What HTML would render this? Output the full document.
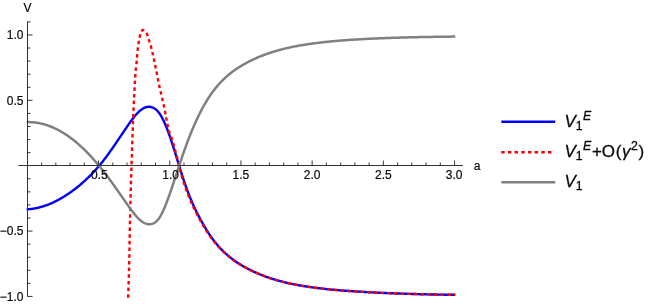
<!DOCTYPE html>
<html><head><meta charset="utf-8"><title>plot</title>
<style>
html,body{margin:0;padding:0;background:#fff;}
body{width:654px;height:304px;overflow:hidden;}
svg{display:block;font-family:"Liberation Sans",sans-serif;will-change:transform;}
</style></head><body>
<svg width="654" height="304" viewBox="0 0 654 304">
<rect width="654" height="304" fill="#fff"/>
<defs><clipPath id="c"><rect x="18" y="21" width="447" height="277"/></clipPath></defs>
<g clip-path="url(#c)" fill="none" stroke-linejoin="round">
<path d="M26.65,209.30 L27.35,209.30 L27.96,209.26 L28.57,209.21 L29.18,209.16 L29.79,209.11 L30.41,209.04 L31.02,208.97 L31.63,208.90 L32.24,208.82 L32.85,208.73 L33.46,208.63 L34.07,208.53 L34.68,208.43 L35.30,208.32 L35.91,208.20 L36.52,208.07 L37.13,207.94 L37.74,207.80 L38.35,207.66 L38.96,207.51 L39.57,207.36 L40.18,207.20 L40.80,207.03 L41.41,206.86 L42.02,206.68 L42.63,206.50 L43.24,206.31 L43.85,206.11 L44.46,205.91 L45.07,205.70 L45.68,205.49 L46.30,205.27 L46.91,205.05 L47.52,204.82 L48.13,204.58 L48.74,204.34 L49.35,204.10 L49.96,203.84 L50.57,203.59 L51.19,203.32 L51.80,203.05 L52.41,202.78 L53.02,202.50 L53.63,202.21 L54.24,201.92 L54.85,201.63 L55.46,201.33 L56.07,201.02 L56.69,200.71 L57.30,200.39 L57.91,200.07 L58.52,199.74 L59.13,199.41 L59.74,199.07 L60.35,198.72 L60.96,198.37 L61.57,198.02 L62.19,197.66 L62.80,197.30 L63.41,196.93 L64.02,196.55 L64.63,196.17 L65.24,195.79 L65.85,195.40 L66.46,195.01 L67.08,194.61 L67.69,194.20 L68.30,193.79 L68.91,193.38 L69.52,192.96 L70.13,192.54 L70.74,192.11 L71.35,191.67 L71.96,191.23 L72.58,190.79 L73.19,190.34 L73.80,189.89 L74.41,189.43 L75.02,188.97 L75.63,188.50 L76.24,188.02 L76.85,187.54 L77.47,187.05 L78.08,186.56 L78.69,186.07 L79.30,185.56 L79.91,185.05 L80.52,184.54 L81.13,184.02 L81.74,183.49 L82.35,182.96 L82.97,182.42 L83.58,181.88 L84.19,181.33 L84.80,180.77 L85.41,180.21 L86.02,179.64 L86.63,179.07 L87.24,178.48 L87.85,177.90 L88.47,177.30 L89.08,176.70 L89.69,176.09 L90.30,175.48 L90.91,174.86 L91.52,174.23 L92.13,173.59 L92.74,172.95 L93.36,172.30 L93.97,171.64 L94.58,170.98 L95.19,170.31 L95.80,169.63 L96.41,168.94 L97.02,168.25 L97.63,167.55 L98.24,166.84 L98.86,166.13 L99.47,165.40 L100.08,164.67 L100.69,163.94 L101.30,163.19 L101.91,162.43 L102.52,161.67 L103.13,160.90 L103.74,160.12 L104.36,159.34 L104.97,158.54 L105.58,157.74 L106.19,156.93 L106.80,156.11 L107.41,155.29 L108.02,154.45 L108.63,153.61 L109.25,152.76 L109.86,151.91 L110.47,151.05 L111.08,150.18 L111.69,149.31 L112.30,148.44 L112.91,147.56 L113.52,146.67 L114.13,145.78 L114.75,144.89 L115.36,144.00 L115.97,143.10 L116.58,142.20 L117.19,141.29 L117.80,140.39 L118.41,139.48 L119.02,138.57 L119.63,137.67 L120.25,136.76 L120.86,135.85 L121.47,134.94 L122.08,134.03 L122.69,133.12 L123.30,132.21 L123.91,131.31 L124.52,130.40 L125.14,129.50 L125.75,128.60 L126.36,127.71 L126.97,126.81 L127.58,125.92 L128.19,125.04 L128.80,124.16 L129.41,123.29 L130.02,122.42 L130.64,121.57 L131.25,120.73 L131.86,119.90 L132.47,119.08 L133.08,118.28 L133.69,117.50 L134.30,116.73 L134.91,115.99 L135.53,115.26 L136.14,114.56 L136.75,113.88 L137.36,113.22 L137.97,112.59 L138.58,111.98 L139.19,111.41 L139.80,110.86 L140.41,110.34 L141.03,109.86 L141.64,109.41 L142.25,108.99 L142.86,108.61 L143.47,108.27 L144.08,107.96 L144.69,107.68 L145.30,107.44 L145.91,107.24 L146.53,107.07 L147.14,106.94 L147.75,106.85 L148.36,106.80 L148.97,106.78 L149.58,106.80 L150.19,106.86 L150.80,106.96 L151.42,107.10 L152.03,107.28 L152.64,107.50 L153.25,107.76 L153.86,108.07 L154.47,108.43 L155.08,108.84 L155.69,109.30 L156.30,109.82 L156.92,110.39 L157.53,111.02 L158.14,111.71 L158.75,112.46 L159.36,113.28 L159.97,114.17 L160.58,115.12 L161.19,116.14 L161.80,117.22 L162.42,118.36 L163.03,119.56 L163.64,120.82 L164.25,122.14 L164.86,123.51 L165.47,124.93 L166.08,126.41 L166.69,127.93 L167.31,129.50 L167.92,131.11 L168.53,132.77 L169.14,134.47 L169.75,136.21 L170.36,137.98 L170.97,139.79 L171.58,141.64 L172.19,143.51 L172.81,145.40 L173.42,147.32 L174.03,149.26 L174.64,151.21 L175.25,153.18 L175.86,155.16 L176.47,157.14 L177.08,159.13 L177.70,161.12 L178.31,163.11 L178.92,165.09 L179.53,167.07 L180.14,169.04 L180.75,170.99 L181.36,172.92 L181.97,174.83 L182.58,176.73 L183.20,178.59 L183.81,180.43 L184.42,182.23 L185.03,184.00 L185.64,185.74 L186.25,187.45 L186.86,189.13 L187.47,190.78 L188.08,192.39 L188.70,193.98 L189.31,195.54 L189.92,197.07 L190.53,198.58 L191.14,200.06 L191.75,201.50 L192.36,202.92 L192.97,204.30 L193.59,205.66 L194.20,206.98 L194.81,208.28 L195.42,209.56 L196.03,210.82 L196.64,212.05 L197.25,213.27 L197.86,214.46 L198.47,215.65 L199.09,216.81 L199.70,217.96 L200.31,219.10 L200.92,220.23 L201.53,221.34 L202.14,222.44 L202.75,223.52 L203.36,224.59 L203.97,225.65 L204.59,226.70 L205.20,227.73 L205.81,228.75 L206.42,229.75 L207.03,230.73 L207.64,231.70 L208.25,232.66 L208.86,233.59 L209.48,234.51 L210.09,235.41 L210.70,236.30 L211.31,237.17 L211.92,238.03 L212.53,238.87 L213.14,239.69 L213.75,240.50 L214.36,241.29 L214.98,242.07 L215.59,242.83 L216.20,243.58 L216.81,244.31 L217.42,245.03 L218.03,245.74 L218.64,246.43 L219.25,247.12 L219.87,247.78 L220.48,248.44 L221.09,249.08 L221.70,249.71 L222.31,250.33 L222.92,250.94 L223.53,251.54 L224.14,252.12 L224.75,252.70 L225.37,253.27 L225.98,253.82 L226.59,254.37 L227.20,254.91 L227.81,255.44 L228.42,255.96 L229.03,256.47 L229.64,256.97 L230.25,257.47 L230.87,257.95 L231.48,258.43 L232.09,258.90 L232.70,259.36 L233.31,259.82 L233.92,260.27 L234.53,260.71 L235.14,261.14 L235.76,261.56 L236.37,261.98 L236.98,262.40 L237.59,262.80 L238.20,263.20 L238.81,263.59 L239.42,263.98 L240.03,264.36 L240.64,264.74 L241.26,265.11 L241.87,265.47 L242.48,265.83 L243.09,266.19 L243.70,266.54 L244.31,266.88 L244.92,267.22 L245.53,267.56 L246.14,267.89 L246.76,268.21 L247.37,268.54 L247.98,268.86 L248.59,269.17 L249.20,269.48 L249.81,269.79 L250.42,270.09 L251.03,270.39 L251.65,270.69 L252.26,270.98 L252.87,271.27 L253.48,271.56 L254.09,271.84 L254.70,272.12 L255.31,272.40 L255.92,272.67 L256.53,272.94 L257.15,273.21 L257.76,273.47 L258.37,273.73 L258.98,273.99 L259.59,274.24 L260.20,274.49 L260.81,274.74 L261.42,274.98 L262.03,275.22 L262.65,275.46 L263.26,275.70 L263.87,275.93 L264.48,276.16 L265.09,276.39 L265.70,276.61 L266.31,276.83 L266.92,277.05 L267.54,277.26 L268.15,277.48 L268.76,277.69 L269.37,277.89 L269.98,278.10 L270.59,278.30 L271.20,278.50 L271.81,278.69 L272.42,278.89 L273.04,279.08 L273.65,279.27 L274.26,279.46 L274.87,279.64 L275.48,279.82 L276.09,280.00 L276.70,280.18 L277.31,280.35 L277.93,280.53 L278.54,280.70 L279.15,280.87 L279.76,281.03 L280.37,281.20 L280.98,281.36 L281.59,281.52 L282.20,281.68 L282.81,281.83 L283.43,281.99 L284.04,282.14 L284.65,282.29 L285.26,282.43 L285.87,282.58 L286.48,282.72 L287.09,282.87 L287.70,283.01 L288.31,283.14 L288.93,283.28 L289.54,283.41 L290.15,283.55 L290.76,283.68 L291.37,283.81 L291.98,283.93 L292.59,284.06 L293.20,284.18 L293.82,284.31 L294.43,284.43 L295.04,284.55 L295.65,284.67 L296.26,284.78 L296.87,284.90 L297.48,285.01 L298.09,285.12 L298.70,285.23 L299.32,285.34 L299.93,285.45 L300.54,285.55 L301.15,285.66 L301.76,285.76 L302.37,285.86 L302.98,285.96 L303.59,286.06 L304.20,286.16 L304.82,286.26 L305.43,286.36 L306.04,286.45 L306.65,286.54 L307.26,286.64 L307.87,286.73 L308.48,286.82 L309.09,286.91 L309.71,286.99 L310.32,287.08 L310.93,287.17 L311.54,287.25 L312.15,287.34 L312.76,287.42 L313.37,287.50 L313.98,287.59 L314.59,287.67 L315.21,287.75 L315.82,287.83 L316.43,287.90 L317.04,287.98 L317.65,288.06 L318.26,288.13 L318.87,288.21 L319.48,288.28 L320.10,288.35 L320.71,288.43 L321.32,288.50 L321.93,288.57 L322.54,288.64 L323.15,288.71 L323.76,288.78 L324.37,288.84 L324.98,288.91 L325.60,288.98 L326.21,289.04 L326.82,289.11 L327.43,289.17 L328.04,289.23 L328.65,289.29 L329.26,289.36 L329.87,289.42 L330.48,289.48 L331.10,289.54 L331.71,289.59 L332.32,289.65 L332.93,289.71 L333.54,289.77 L334.15,289.82 L334.76,289.88 L335.37,289.93 L335.99,289.99 L336.60,290.04 L337.21,290.09 L337.82,290.15 L338.43,290.20 L339.04,290.25 L339.65,290.30 L340.26,290.35 L340.87,290.40 L341.49,290.45 L342.10,290.49 L342.71,290.54 L343.32,290.59 L343.93,290.63 L344.54,290.68 L345.15,290.73 L345.76,290.77 L346.37,290.81 L346.99,290.86 L347.60,290.90 L348.21,290.94 L348.82,290.99 L349.43,291.03 L350.04,291.07 L350.65,291.11 L351.26,291.15 L351.88,291.19 L352.49,291.23 L353.10,291.27 L353.71,291.31 L354.32,291.35 L354.93,291.38 L355.54,291.42 L356.15,291.46 L356.76,291.50 L357.38,291.54 L357.99,291.58 L358.60,291.62 L359.21,291.66 L359.82,291.70 L360.43,291.73 L361.04,291.77 L361.65,291.81 L362.27,291.84 L362.88,291.88 L363.49,291.91 L364.10,291.95 L364.71,291.98 L365.32,292.02 L365.93,292.05 L366.54,292.09 L367.15,292.12 L367.77,292.15 L368.38,292.19 L368.99,292.22 L369.60,292.25 L370.21,292.29 L370.82,292.32 L371.43,292.35 L372.04,292.38 L372.65,292.41 L373.27,292.44 L373.88,292.48 L374.49,292.51 L375.10,292.54 L375.71,292.57 L376.32,292.60 L376.93,292.63 L377.54,292.66 L378.16,292.69 L378.77,292.71 L379.38,292.74 L379.99,292.77 L380.60,292.80 L381.21,292.83 L381.82,292.86 L382.43,292.88 L383.04,292.91 L383.66,292.94 L384.27,292.96 L384.88,292.99 L385.49,293.02 L386.10,293.04 L386.71,293.07 L387.32,293.10 L387.93,293.12 L388.54,293.15 L389.16,293.17 L389.77,293.20 L390.38,293.22 L390.99,293.25 L391.60,293.27 L392.21,293.29 L392.82,293.32 L393.43,293.34 L394.05,293.36 L394.66,293.39 L395.27,293.41 L395.88,293.43 L396.49,293.46 L397.10,293.48 L397.71,293.50 L398.32,293.52 L398.93,293.54 L399.55,293.57 L400.16,293.59 L400.77,293.61 L401.38,293.63 L401.99,293.65 L402.60,293.67 L403.21,293.69 L403.82,293.71 L404.43,293.73 L405.05,293.75 L405.66,293.77 L406.27,293.79 L406.88,293.81 L407.49,293.83 L408.10,293.85 L408.71,293.87 L409.32,293.89 L409.94,293.91 L410.55,293.92 L411.16,293.94 L411.77,293.96 L412.38,293.98 L412.99,294.00 L413.60,294.01 L414.21,294.03 L414.82,294.05 L415.44,294.07 L416.05,294.08 L416.66,294.10 L417.27,294.12 L417.88,294.13 L418.49,294.15 L419.10,294.16 L419.71,294.18 L420.33,294.20 L420.94,294.21 L421.55,294.23 L422.16,294.24 L422.77,294.26 L423.38,294.27 L423.99,294.29 L424.60,294.30 L425.21,294.32 L425.83,294.33 L426.44,294.35 L427.05,294.36 L427.66,294.37 L428.27,294.39 L428.88,294.40 L429.49,294.42 L430.10,294.43 L430.71,294.44 L431.33,294.46 L431.94,294.47 L432.55,294.48 L433.16,294.50 L433.77,294.51 L434.38,294.52 L434.99,294.53 L435.60,294.55 L436.22,294.56 L436.83,294.57 L437.44,294.58 L438.05,294.60 L438.66,294.61 L439.27,294.62 L439.88,294.63 L440.49,294.64 L441.10,294.65 L441.72,294.66 L442.33,294.67 L442.94,294.67 L443.55,294.68 L444.16,294.69 L444.77,294.70 L445.38,294.70 L445.99,294.71 L446.60,294.72 L447.22,294.73 L447.83,294.73 L448.44,294.74 L449.05,294.75 L449.66,294.75 L450.27,294.76 L450.88,294.77 L451.49,294.78 L452.11,294.78 L452.72,294.79 L453.33,294.79 L453.94,294.80 L454.55,294.81 L455.25,294.81" stroke="#0000ff" stroke-width="2.4"/>
<path d="M128.10,297.80 L128.14,296.76 L128.18,295.71 L128.22,294.67 L128.26,293.62 L128.29,292.58 L128.33,291.53 L128.37,290.49 L128.41,289.44 L128.44,288.40 L128.48,287.35 L128.51,286.31 L128.55,285.26 L128.58,284.22 L128.62,283.17 L128.65,282.13 L128.69,281.08 L128.72,280.04 L128.75,278.99 L128.78,277.95 L128.81,276.90 L128.85,275.86 L128.88,274.81 L128.91,273.77 L128.94,272.72 L128.97,271.68 L129.00,270.63 L129.02,269.59 L129.05,268.54 L129.08,267.50 L129.11,266.45 L129.14,265.41 L129.16,264.36 L129.19,263.32 L129.21,262.27 L129.24,261.23 L129.26,260.18 L129.29,259.14 L129.31,258.09 L129.33,257.05 L129.36,256.00 L129.38,254.96 L129.40,253.91 L129.42,252.86 L129.44,251.82 L129.46,250.77 L129.48,249.73 L129.50,248.68 L129.52,247.64 L129.53,246.59 L129.55,245.55 L129.57,244.50 L129.58,243.46 L129.60,242.41 L129.61,241.37 L129.63,240.32 L129.64,239.28 L129.66,238.23 L129.68,237.19 L129.69,236.14 L129.71,235.09 L129.73,234.05 L129.74,233.00 L129.76,231.96 L129.78,230.91 L129.80,229.87 L129.82,228.82 L129.85,227.78 L129.87,226.73 L129.89,225.69 L129.92,224.64 L129.94,223.60 L129.97,222.55 L130.00,221.51 L130.02,220.46 L130.05,219.42 L130.08,218.37 L130.10,217.33 L130.13,216.28 L130.16,215.24 L130.18,214.19 L130.21,213.15 L130.24,212.10 L130.26,211.06 L130.29,210.01 L130.31,208.97 L130.34,207.92 L130.36,206.87 L130.38,205.83 L130.41,204.78 L130.43,203.74 L130.45,202.69 L130.48,201.65 L130.50,200.60 L130.52,199.56 L130.55,198.51 L130.57,197.47 L130.59,196.42 L130.62,195.38 L130.64,194.33 L130.67,193.29 L130.69,192.24 L130.72,191.20 L130.74,190.15 L130.77,189.11 L130.80,188.06 L130.83,187.02 L130.86,185.97 L130.89,184.93 L130.92,183.88 L130.95,182.84 L130.99,181.79 L131.02,180.75 L131.05,179.70 L131.09,178.66 L131.12,177.61 L131.16,176.57 L131.19,175.52 L131.23,174.48 L131.27,173.43 L131.30,172.39 L131.34,171.34 L131.37,170.30 L131.41,169.25 L131.45,168.21 L131.48,167.16 L131.52,166.12 L131.55,165.07 L131.59,164.03 L131.62,162.98 L131.66,161.94 L131.69,160.89 L131.73,159.85 L131.76,158.80 L131.80,157.76 L131.83,156.72 L131.87,155.67 L131.90,154.63 L131.94,153.58 L131.97,152.54 L132.01,151.49 L132.04,150.45 L132.08,149.40 L132.11,148.36 L132.15,147.31 L132.19,146.27 L132.22,145.22 L132.26,144.18 L132.29,143.13 L132.33,142.09 L132.36,141.04 L132.40,140.00 L132.44,138.95 L132.47,137.91 L132.51,136.86 L132.54,135.82 L132.58,134.77 L132.61,133.73 L132.65,132.68 L132.68,131.64 L132.72,130.59 L132.75,129.55 L132.79,128.50 L132.83,127.46 L132.86,126.41 L132.90,125.37 L132.94,124.32 L132.97,123.28 L133.01,122.24 L133.05,121.19 L133.09,120.15 L133.13,119.10 L133.17,118.06 L133.21,117.01 L133.25,115.97 L133.30,114.92 L133.34,113.88 L133.38,112.83 L133.43,111.79 L133.47,110.74 L133.52,109.70 L133.57,108.66 L133.61,107.61 L133.66,106.57 L133.71,105.52 L133.76,104.48 L133.82,103.43 L133.87,102.39 L133.92,101.35 L133.98,100.30 L134.03,99.26 L134.09,98.21 L134.14,97.17 L134.19,96.13 L134.25,95.08 L134.30,94.04 L134.35,92.99 L134.40,91.95 L134.44,90.90 L134.49,89.86 L134.54,88.82 L134.60,87.77 L134.65,86.73 L134.70,85.68 L134.76,84.64 L134.82,83.60 L134.88,82.55 L134.94,81.51 L135.00,80.46 L135.07,79.42 L135.13,78.38 L135.20,77.33 L135.27,76.29 L135.35,75.25 L135.42,74.21 L135.50,73.16 L135.58,72.12 L135.67,71.08 L135.76,70.04 L135.86,69.00 L135.97,67.96 L136.08,66.92 L136.19,65.88 L136.30,64.84 L136.42,63.80 L136.53,62.76 L136.63,61.72 L136.74,60.68 L136.83,59.64 L136.92,58.60 L137.01,57.55 L137.09,56.51 L137.17,55.47 L137.25,54.43 L137.33,53.38 L137.42,52.34 L137.51,51.30 L137.61,50.26 L137.72,49.22 L137.84,48.18 L137.97,47.15 L138.12,46.11 L138.27,45.08 L138.42,44.04 L138.58,43.01 L138.75,41.98 L138.91,40.94 L139.08,39.91 L139.27,38.88 L139.46,37.85 L139.68,36.83 L139.92,35.81 L140.17,34.77 L140.45,33.72 L140.79,32.72 L141.19,31.80 L141.76,30.88 L142.55,30.06 L143.40,29.99 L144.36,30.56 L145.16,31.24 L145.84,32.03 L146.44,32.94 L146.94,33.87 L147.35,34.80 L147.71,35.77 L148.02,36.77 L148.32,37.78 L148.61,38.80 L148.89,39.82 L149.20,40.82 L149.51,41.82 L149.83,42.82 L150.14,43.82 L150.44,44.82 L150.74,45.82 L151.02,46.82 L151.30,47.83 L151.56,48.84 L151.81,49.86 L152.06,50.88 L152.30,51.89 L152.54,52.91 L152.77,53.93 L153.00,54.95 L153.22,55.97 L153.44,57.00 L153.65,58.02 L153.86,59.04 L154.07,60.07 L154.29,61.09 L154.50,62.11 L154.71,63.14 L154.92,64.16 L155.13,65.19 L155.34,66.21 L155.55,67.23 L155.76,68.26 L155.97,69.28 L156.18,70.31 L156.38,71.33 L156.59,72.36 L156.80,73.38 L157.00,74.41 L157.20,75.43 L157.40,76.46 L157.60,77.49 L157.81,78.51 L158.01,79.54 L158.21,80.56 L158.42,81.59 L158.63,82.61 L158.84,83.63 L159.06,84.66 L159.28,85.68 L159.50,86.70 L159.73,87.72 L159.96,88.74 L160.19,89.76 L160.42,90.78 L160.65,91.80 L160.89,92.82 L161.12,93.84 L161.36,94.86 L161.60,95.87 L161.84,96.89 L162.09,97.91 L162.32,98.93 L162.55,99.94 L162.79,100.96 L163.02,101.98 L163.25,103.00 L163.47,104.03 L163.70,105.05 L163.92,106.07 L164.13,107.09 L164.34,108.11 L164.55,109.14 L164.75,110.16 L164.95,111.19 L165.14,112.22 L165.34,113.25 L165.53,114.27 L165.72,115.30 L165.91,116.33 L166.10,117.36 L166.30,118.38 L166.50,119.41 L166.71,120.44 L166.91,121.46 L167.11,122.49 L167.30,123.52 L167.50,124.55 L167.70,125.58 L167.91,126.61 L168.13,127.63 L168.36,128.65 L168.60,129.67 L168.86,130.67 L169.14,131.67 L169.46,132.66 L169.82,133.64 L170.21,134.61 L170.61,135.58 L171.02,136.55 L171.43,137.52 L171.81,138.49 L172.17,139.47 L172.49,140.47 L172.79,141.46 L173.08,142.47 L173.36,143.47 L173.63,144.48 L173.90,145.50 L174.16,146.51 L174.42,147.53 L174.68,148.54 L174.94,149.55 L175.21,150.56 L175.48,151.57 L175.74,152.58 L176.01,153.60 L176.27,154.61 L176.53,155.62 L176.79,156.63 L177.05,157.65 L177.31,158.66 L177.57,159.67 L177.82,160.68 L178.08,161.70 L178.33,162.71 L178.57,163.73 L178.82,164.75 L179.07,165.76 L179.32,166.78 L179.57,167.79 L179.83,168.80 L180.09,169.82 L180.36,170.83 L180.63,171.84 L180.91,172.85 L181.18,173.85 L181.46,174.86 L181.75,175.87 L182.04,176.87 L182.33,177.88 L182.62,178.88 L182.93,179.88 L183.23,180.88 L183.55,181.88 L183.86,182.87 L184.18,183.87 L184.51,184.86 L184.84,185.85 L185.18,186.84 L185.52,187.83 L185.86,188.82 L186.21,189.80 L186.57,190.79 L186.93,191.77 L187.30,192.75 L187.67,193.72 L188.05,194.70 L188.43,195.67 L188.82,196.64 L189.22,197.61 L189.62,198.58 L190.02,199.54 L190.43,200.50 L190.85,201.46 L191.27,202.42 L191.69,203.37 L192.13,204.32 L192.56,205.27 L193.01,206.22 L193.45,207.17 L193.90,208.11 L194.36,209.06 L194.82,209.99 L195.28,210.93 L195.75,211.87 L196.22,212.80 L196.69,213.73 L197.17,214.66 L197.66,215.59 L198.15,216.51 L198.64,217.43 L199.14,218.35 L199.64,219.27 L200.14,220.19 L200.65,221.10 L201.17,222.01 L201.69,222.92 L202.21,223.83 L202.74,224.73 L203.27,225.63 L203.80,226.52 L204.34,227.42 L204.88,228.32 L205.43,229.22 L205.98,230.11 L206.53,231.00 L207.10,231.88 L207.67,232.76 L208.24,233.63 L208.83,234.50 L209.42,235.36 L210.02,236.21 L210.63,237.05 L211.24,237.89 L211.87,238.73 L212.50,239.56 L213.15,240.39 L213.79,241.21 L214.45,242.03 L215.12,242.85 L215.79,243.65 L216.47,244.46 L217.15,245.25 L217.85,246.04 L218.55,246.82 L219.26,247.59 L219.97,248.35 L220.69,249.10 L221.42,249.84 L222.15,250.57 L222.90,251.29 L223.65,252.00 L224.41,252.71 L225.19,253.41 L225.97,254.11 L226.76,254.79 L227.55,255.47 L228.36,256.14 L229.17,256.80 L230.00,257.46 L230.83,258.11 L231.66,258.75 L232.51,259.38 L233.36,260.00 L233.91,260.26 L234.47,260.66 L235.02,261.05 L235.58,261.44 L236.13,261.82 L236.68,262.20 L237.24,262.57 L237.79,262.94 L238.35,263.30 L238.90,263.65 L239.46,264.00 L240.01,264.35 L240.56,264.69 L241.12,265.03 L241.67,265.36 L242.23,265.69 L242.78,266.01 L243.34,266.33 L243.89,266.64 L244.45,266.96 L245.00,267.26 L245.55,267.57 L246.11,267.87 L246.66,268.16 L247.22,268.46 L247.77,268.75 L248.33,269.04 L248.88,269.32 L249.43,269.60 L249.99,269.88 L250.54,270.15 L251.10,270.43 L251.65,270.69 L252.21,270.96 L252.76,271.22 L253.32,271.48 L253.87,271.74 L254.42,272.00 L254.98,272.25 L255.53,272.50 L256.09,272.75 L256.64,272.99 L257.20,273.23 L257.75,273.47 L258.30,273.70 L258.86,273.94 L259.41,274.17 L259.97,274.40 L260.52,274.62 L261.08,274.84 L261.63,275.07 L262.19,275.28 L262.74,275.50 L263.29,275.71 L263.85,275.92 L264.40,276.13 L264.96,276.34 L265.51,276.54 L266.07,276.74 L266.62,276.94 L267.17,277.14 L267.73,277.33 L268.28,277.52 L268.84,277.71 L269.39,277.90 L269.95,278.09 L270.50,278.27 L271.05,278.45 L271.61,278.63 L272.16,278.81 L272.72,278.98 L273.27,279.15 L273.83,279.32 L274.38,279.49 L274.94,279.66 L275.49,279.82 L276.04,279.99 L276.60,280.15 L277.15,280.31 L277.71,280.47 L278.26,280.62 L278.82,280.78 L279.37,280.93 L279.92,281.08 L280.48,281.23 L281.03,281.37 L281.59,281.52 L282.14,281.66 L282.70,281.80 L283.25,281.94 L283.81,282.08 L284.36,282.22 L284.91,282.35 L285.47,282.48 L286.02,282.62 L286.58,282.75 L287.13,282.87 L287.69,283.00 L288.24,283.13 L288.79,283.25 L289.35,283.37 L289.90,283.49 L290.46,283.61 L291.01,283.73 L291.57,283.85 L292.12,283.96 L292.68,284.08 L293.23,284.19 L293.78,284.30 L294.34,284.41 L294.89,284.52 L295.45,284.63 L296.00,284.73 L296.56,284.84 L297.11,284.94 L297.66,285.04 L298.22,285.14 L298.77,285.24 L299.33,285.34 L299.88,285.44 L300.44,285.54 L300.99,285.63 L301.55,285.73 L302.10,285.82 L302.65,285.91 L303.21,286.00 L303.76,286.09 L304.32,286.18 L304.87,286.27 L305.43,286.35 L305.98,286.44 L306.53,286.53 L307.09,286.61 L307.64,286.69 L308.20,286.78 L308.75,286.86 L309.31,286.94 L309.86,287.02 L310.41,287.10 L310.97,287.17 L311.52,287.25 L312.08,287.33 L312.63,287.40 L313.19,287.48 L313.74,287.55 L314.30,287.63 L314.85,287.70 L315.40,287.77 L315.96,287.84 L316.51,287.91 L317.07,287.98 L317.62,288.05 L318.18,288.12 L318.73,288.19 L319.28,288.26 L319.84,288.32 L320.39,288.39 L320.95,288.45 L321.50,288.52 L322.06,288.58 L322.61,288.65 L323.17,288.71 L323.72,288.77 L324.27,288.83 L324.83,288.89 L325.38,288.95 L325.94,289.01 L326.49,289.07 L327.05,289.13 L327.60,289.19 L328.15,289.24 L328.71,289.30 L329.26,289.36 L329.82,289.41 L330.37,289.47 L330.93,289.52 L331.48,289.57 L332.04,289.63 L332.59,289.68 L333.14,289.73 L333.70,289.78 L334.25,289.83 L334.81,289.88 L335.36,289.93 L335.92,289.98 L336.47,290.03 L337.02,290.08 L337.58,290.13 L338.13,290.17 L338.69,290.22 L339.24,290.26 L339.80,290.31 L340.35,290.36 L340.91,290.40 L341.46,290.44 L342.01,290.49 L342.57,290.53 L343.12,290.57 L343.68,290.62 L344.23,290.66 L344.79,290.70 L345.34,290.74 L345.89,290.78 L346.45,290.82 L347.00,290.86 L347.56,290.90 L348.11,290.94 L348.67,290.98 L349.22,291.01 L349.77,291.05 L350.33,291.09 L350.88,291.13 L351.44,291.16 L351.99,291.20 L352.55,291.23 L353.10,291.27 L353.66,291.30 L354.21,291.34 L354.76,291.37 L355.32,291.41 L355.87,291.45 L356.43,291.48 L356.98,291.52 L357.54,291.55 L358.09,291.59 L358.64,291.62 L359.20,291.66 L359.75,291.69 L360.31,291.73 L360.86,291.76 L361.42,291.79 L361.97,291.83 L362.53,291.86 L363.08,291.89 L363.63,291.92 L364.19,291.95 L364.74,291.99 L365.30,292.02 L365.85,292.05 L366.41,292.08 L366.96,292.11 L367.51,292.14 L368.07,292.17 L368.62,292.20 L369.18,292.23 L369.73,292.26 L370.29,292.29 L370.84,292.32 L371.40,292.35 L371.95,292.38 L372.50,292.41 L373.06,292.43 L373.61,292.46 L374.17,292.49 L374.72,292.52 L375.28,292.55 L375.83,292.57 L376.38,292.60 L376.94,292.63 L377.49,292.65 L378.05,292.68 L378.60,292.71 L379.16,292.73 L379.71,292.76 L380.26,292.78 L380.82,292.81 L381.37,292.84 L381.93,292.86 L382.48,292.89 L383.04,292.91 L383.59,292.93 L384.15,292.96 L384.70,292.98 L385.25,293.01 L385.81,293.03 L386.36,293.05 L386.92,293.08 L387.47,293.10 L388.03,293.12 L388.58,293.15 L389.13,293.17 L389.69,293.19 L390.24,293.22 L390.80,293.24 L391.35,293.26 L391.91,293.28 L392.46,293.30 L393.02,293.33 L393.57,293.35 L394.12,293.37 L394.68,293.39 L395.23,293.41 L395.79,293.43 L396.34,293.45 L396.90,293.47 L397.45,293.49 L398.00,293.51 L398.56,293.53 L399.11,293.55 L399.67,293.57 L400.22,293.59 L400.78,293.61 L401.33,293.63 L401.89,293.65 L402.44,293.67 L402.99,293.68 L403.55,293.70 L404.10,293.72 L404.66,293.74 L405.21,293.76 L405.77,293.78 L406.32,293.79 L406.87,293.81 L407.43,293.83 L407.98,293.85 L408.54,293.86 L409.09,293.88 L409.65,293.90 L410.20,293.91 L410.76,293.93 L411.31,293.95 L411.86,293.96 L412.42,293.98 L412.97,294.00 L413.53,294.01 L414.08,294.03 L414.64,294.04 L415.19,294.06 L415.74,294.07 L416.30,294.09 L416.85,294.10 L417.41,294.12 L417.96,294.13 L418.52,294.15 L419.07,294.16 L419.62,294.18 L420.18,294.19 L420.73,294.21 L421.29,294.22 L421.84,294.23 L422.40,294.25 L422.95,294.26 L423.51,294.28 L424.06,294.29 L424.61,294.30 L425.17,294.32 L425.72,294.33 L426.28,294.34 L426.83,294.36 L427.39,294.37 L427.94,294.38 L428.49,294.39 L429.05,294.41 L429.60,294.42 L430.16,294.43 L430.71,294.44 L431.27,294.46 L431.82,294.47 L432.38,294.48 L432.93,294.49 L433.48,294.50 L434.04,294.51 L434.59,294.53 L435.15,294.54 L435.70,294.55 L436.26,294.56 L436.81,294.57 L437.36,294.58 L437.92,294.59 L438.47,294.60 L439.03,294.61 L439.58,294.63 L440.14,294.64 L440.69,294.64 L441.25,294.65 L441.80,294.66 L442.35,294.67 L442.91,294.67 L443.46,294.68 L444.02,294.69 L444.57,294.69 L445.13,294.70 L445.68,294.71 L446.23,294.71 L446.79,294.72 L447.34,294.73 L447.90,294.73 L448.45,294.74 L449.01,294.75 L449.56,294.75 L450.12,294.76 L450.67,294.77 L451.22,294.77 L451.78,294.78 L452.33,294.78 L452.89,294.79 L453.44,294.80 L454.00,294.80 L454.55,294.81 L455.25,294.81" stroke="#ff0000" stroke-width="2.4" stroke-dasharray="3.5 3.18"/>
<path d="M26.65,122.10 L27.35,122.10 L27.96,122.09 L28.57,122.09 L29.18,122.10 L29.79,122.11 L30.41,122.13 L31.02,122.16 L31.63,122.19 L32.24,122.23 L32.85,122.28 L33.46,122.33 L34.07,122.39 L34.68,122.46 L35.30,122.53 L35.91,122.61 L36.52,122.69 L37.13,122.79 L37.74,122.88 L38.35,122.99 L38.96,123.10 L39.57,123.22 L40.18,123.35 L40.80,123.48 L41.41,123.62 L42.02,123.76 L42.63,123.91 L43.24,124.07 L43.85,124.23 L44.46,124.41 L45.07,124.58 L45.68,124.77 L46.30,124.96 L46.91,125.16 L47.52,125.36 L48.13,125.57 L48.74,125.79 L49.35,126.01 L49.96,126.24 L50.57,126.48 L51.19,126.72 L51.80,126.97 L52.41,127.23 L53.02,127.49 L53.63,127.76 L54.24,128.03 L54.85,128.32 L55.46,128.61 L56.07,128.90 L56.69,129.20 L57.30,129.51 L57.91,129.83 L58.52,130.15 L59.13,130.48 L59.74,130.81 L60.35,131.15 L60.96,131.50 L61.57,131.86 L62.19,132.22 L62.80,132.58 L63.41,132.96 L64.02,133.34 L64.63,133.73 L65.24,134.12 L65.85,134.52 L66.46,134.93 L67.08,135.34 L67.69,135.76 L68.30,136.19 L68.91,136.62 L69.52,137.06 L70.13,137.50 L70.74,137.96 L71.35,138.42 L71.96,138.88 L72.58,139.35 L73.19,139.83 L73.80,140.32 L74.41,140.81 L75.02,141.30 L75.63,141.81 L76.24,142.32 L76.85,142.84 L77.47,143.36 L78.08,143.89 L78.69,144.42 L79.30,144.97 L79.91,145.51 L80.52,146.07 L81.13,146.63 L81.74,147.20 L82.35,147.77 L82.97,148.35 L83.58,148.93 L84.19,149.53 L84.80,150.12 L85.41,150.73 L86.02,151.34 L86.63,151.96 L87.24,152.58 L87.85,153.21 L88.47,153.84 L89.08,154.48 L89.69,155.13 L90.30,155.78 L90.91,156.44 L91.52,157.11 L92.13,157.78 L92.74,158.45 L93.36,159.14 L93.97,159.83 L94.58,160.52 L95.19,161.22 L95.80,161.93 L96.41,162.64 L97.02,163.36 L97.63,164.08 L98.24,164.81 L98.86,165.55 L99.47,166.29 L100.08,167.04 L100.69,167.79 L101.30,168.55 L101.91,169.31 L102.52,170.08 L103.13,170.86 L103.74,171.64 L104.36,172.43 L104.97,173.22 L105.58,174.02 L106.19,174.82 L106.80,175.63 L107.41,176.45 L108.02,177.27 L108.63,178.09 L109.25,178.92 L109.86,179.76 L110.47,180.60 L111.08,181.44 L111.69,182.28 L112.30,183.13 L112.91,183.98 L113.52,184.84 L114.13,185.70 L114.75,186.56 L115.36,187.42 L115.97,188.29 L116.58,189.15 L117.19,190.02 L117.80,190.89 L118.41,191.76 L119.02,192.64 L119.63,193.51 L120.25,194.39 L120.86,195.26 L121.47,196.14 L122.08,197.01 L122.69,197.89 L123.30,198.76 L123.91,199.63 L124.52,200.51 L125.14,201.38 L125.75,202.25 L126.36,203.12 L126.97,203.98 L127.58,204.85 L128.19,205.71 L128.80,206.57 L129.41,207.42 L130.02,208.27 L130.64,209.10 L131.25,209.93 L131.86,210.75 L132.47,211.55 L133.08,212.34 L133.69,213.12 L134.30,213.88 L134.91,214.62 L135.53,215.34 L136.14,216.05 L136.75,216.73 L137.36,217.39 L137.97,218.03 L138.58,218.64 L139.19,219.23 L139.80,219.79 L140.41,220.32 L141.03,220.82 L141.64,221.28 L142.25,221.72 L142.86,222.12 L143.47,222.49 L144.08,222.83 L144.69,223.13 L145.30,223.40 L145.91,223.63 L146.53,223.83 L147.14,223.99 L147.75,224.11 L148.36,224.19 L148.97,224.24 L149.58,224.25 L150.19,224.22 L150.80,224.14 L151.42,224.03 L152.03,223.88 L152.64,223.68 L153.25,223.44 L153.86,223.14 L154.47,222.80 L155.08,222.39 L155.69,221.94 L156.30,221.42 L156.92,220.83 L157.53,220.19 L158.14,219.47 L158.75,218.68 L159.36,217.82 L159.97,216.89 L160.58,215.87 L161.19,214.79 L161.80,213.63 L162.42,212.41 L163.03,211.12 L163.64,209.78 L164.25,208.38 L164.86,206.93 L165.47,205.43 L166.08,203.88 L166.69,202.30 L167.31,200.67 L167.92,199.02 L168.53,197.33 L169.14,195.61 L169.75,193.88 L170.36,192.12 L170.97,190.35 L171.58,188.56 L172.19,186.75 L172.81,184.93 L173.42,183.10 L174.03,181.27 L174.64,179.42 L175.25,177.57 L175.86,175.71 L176.47,173.86 L177.08,172.00 L177.70,170.14 L178.31,168.29 L178.92,166.44 L179.53,164.59 L180.14,162.76 L180.75,160.93 L181.36,159.12 L181.97,157.31 L182.58,155.53 L183.20,153.75 L183.81,152.00 L184.42,150.27 L185.03,148.56 L185.64,146.86 L186.25,145.19 L186.86,143.54 L187.47,141.91 L188.08,140.30 L188.70,138.71 L189.31,137.14 L189.92,135.59 L190.53,134.06 L191.14,132.55 L191.75,131.06 L192.36,129.59 L192.97,128.14 L193.59,126.70 L194.20,125.29 L194.81,123.90 L195.42,122.53 L196.03,121.18 L196.64,119.85 L197.25,118.54 L197.86,117.25 L198.47,115.98 L199.09,114.73 L199.70,113.50 L200.31,112.29 L200.92,111.09 L201.53,109.92 L202.14,108.77 L202.75,107.64 L203.36,106.52 L203.97,105.43 L204.59,104.35 L205.20,103.30 L205.81,102.26 L206.42,101.25 L207.03,100.25 L207.64,99.27 L208.25,98.31 L208.86,97.37 L209.48,96.44 L210.09,95.54 L210.70,94.65 L211.31,93.77 L211.92,92.92 L212.53,92.08 L213.14,91.25 L213.75,90.44 L214.36,89.65 L214.98,88.87 L215.59,88.11 L216.20,87.36 L216.81,86.63 L217.42,85.91 L218.03,85.20 L218.64,84.51 L219.25,83.83 L219.87,83.16 L220.48,82.50 L221.09,81.86 L221.70,81.23 L222.31,80.61 L222.92,80.00 L223.53,79.40 L224.14,78.82 L224.75,78.24 L225.37,77.68 L225.98,77.12 L226.59,76.57 L227.20,76.03 L227.81,75.50 L228.42,74.98 L229.03,74.47 L229.64,73.97 L230.25,73.48 L230.87,72.99 L231.48,72.51 L232.09,72.04 L232.70,71.58 L233.31,71.12 L233.92,70.68 L234.53,70.24 L235.14,69.80 L235.76,69.38 L236.37,68.96 L236.98,68.55 L237.59,68.14 L238.20,67.74 L238.81,67.35 L239.42,66.96 L240.03,66.58 L240.64,66.20 L241.26,65.83 L241.87,65.47 L242.48,65.11 L243.09,64.75 L243.70,64.41 L244.31,64.06 L244.92,63.72 L245.53,63.39 L246.14,63.06 L246.76,62.73 L247.37,62.41 L247.98,62.09 L248.59,61.77 L249.20,61.46 L249.81,61.15 L250.42,60.85 L251.03,60.55 L251.65,60.25 L252.26,59.96 L252.87,59.67 L253.48,59.38 L254.09,59.10 L254.70,58.82 L255.31,58.54 L255.92,58.27 L256.53,58.00 L257.15,57.73 L257.76,57.47 L258.37,57.21 L258.98,56.95 L259.59,56.70 L260.20,56.45 L260.81,56.20 L261.42,55.96 L262.03,55.72 L262.65,55.48 L263.26,55.24 L263.87,55.01 L264.48,54.78 L265.09,54.56 L265.70,54.33 L266.31,54.11 L266.92,53.89 L267.54,53.68 L268.15,53.47 L268.76,53.26 L269.37,53.05 L269.98,52.85 L270.59,52.64 L271.20,52.44 L271.81,52.25 L272.42,52.05 L273.04,51.86 L273.65,51.67 L274.26,51.49 L274.87,51.30 L275.48,51.12 L276.09,50.94 L276.70,50.76 L277.31,50.59 L277.93,50.42 L278.54,50.24 L279.15,50.08 L279.76,49.91 L280.37,49.75 L280.98,49.58 L281.59,49.42 L282.20,49.27 L282.81,49.11 L283.43,48.96 L284.04,48.81 L284.65,48.66 L285.26,48.51 L285.87,48.36 L286.48,48.22 L287.09,48.08 L287.70,47.94 L288.31,47.80 L288.93,47.66 L289.54,47.53 L290.15,47.40 L290.76,47.26 L291.37,47.14 L291.98,47.01 L292.59,46.88 L293.20,46.76 L293.82,46.64 L294.43,46.51 L295.04,46.39 L295.65,46.28 L296.26,46.16 L296.87,46.05 L297.48,45.93 L298.09,45.82 L298.70,45.71 L299.32,45.60 L299.93,45.49 L300.54,45.39 L301.15,45.28 L301.76,45.18 L302.37,45.08 L302.98,44.98 L303.59,44.88 L304.20,44.78 L304.82,44.68 L305.43,44.59 L306.04,44.49 L306.65,44.40 L307.26,44.31 L307.87,44.22 L308.48,44.12 L309.09,44.04 L309.71,43.95 L310.32,43.86 L310.93,43.77 L311.54,43.69 L312.15,43.60 L312.76,43.52 L313.37,43.44 L313.98,43.36 L314.59,43.28 L315.21,43.20 L315.82,43.12 L316.43,43.04 L317.04,42.96 L317.65,42.89 L318.26,42.81 L318.87,42.74 L319.48,42.66 L320.10,42.59 L320.71,42.52 L321.32,42.44 L321.93,42.37 L322.54,42.30 L323.15,42.24 L323.76,42.17 L324.37,42.10 L324.98,42.03 L325.60,41.97 L326.21,41.90 L326.82,41.84 L327.43,41.77 L328.04,41.71 L328.65,41.65 L329.26,41.59 L329.87,41.53 L330.48,41.47 L331.10,41.41 L331.71,41.35 L332.32,41.29 L332.93,41.23 L333.54,41.18 L334.15,41.12 L334.76,41.06 L335.37,41.01 L335.99,40.96 L336.60,40.90 L337.21,40.85 L337.82,40.80 L338.43,40.75 L339.04,40.69 L339.65,40.64 L340.26,40.59 L340.87,40.54 L341.49,40.50 L342.10,40.45 L342.71,40.40 L343.32,40.35 L343.93,40.31 L344.54,40.26 L345.15,40.22 L345.76,40.17 L346.37,40.13 L346.99,40.08 L347.60,40.04 L348.21,40.00 L348.82,39.96 L349.43,39.91 L350.04,39.87 L350.65,39.83 L351.26,39.79 L351.88,39.75 L352.49,39.71 L353.10,39.67 L353.71,39.64 L354.32,39.60 L354.93,39.56 L355.54,39.52 L356.15,39.49 L356.76,39.45 L357.38,39.41 L357.99,39.38 L358.60,39.34 L359.21,39.31 L359.82,39.27 L360.43,39.24 L361.04,39.21 L361.65,39.17 L362.27,39.14 L362.88,39.11 L363.49,39.07 L364.10,39.04 L364.71,39.01 L365.32,38.98 L365.93,38.95 L366.54,38.92 L367.15,38.89 L367.77,38.86 L368.38,38.83 L368.99,38.80 L369.60,38.77 L370.21,38.74 L370.82,38.71 L371.43,38.68 L372.04,38.65 L372.65,38.62 L373.27,38.60 L373.88,38.57 L374.49,38.54 L375.10,38.51 L375.71,38.49 L376.32,38.46 L376.93,38.43 L377.54,38.41 L378.16,38.38 L378.77,38.36 L379.38,38.33 L379.99,38.31 L380.60,38.28 L381.21,38.26 L381.82,38.23 L382.43,38.21 L383.04,38.18 L383.66,38.16 L384.27,38.14 L384.88,38.11 L385.49,38.09 L386.10,38.07 L386.71,38.04 L387.32,38.02 L387.93,38.00 L388.54,37.98 L389.16,37.95 L389.77,37.93 L390.38,37.91 L390.99,37.89 L391.60,37.87 L392.21,37.85 L392.82,37.83 L393.43,37.81 L394.05,37.79 L394.66,37.77 L395.27,37.75 L395.88,37.73 L396.49,37.71 L397.10,37.69 L397.71,37.67 L398.32,37.65 L398.93,37.63 L399.55,37.62 L400.16,37.60 L400.77,37.58 L401.38,37.56 L401.99,37.54 L402.60,37.53 L403.21,37.51 L403.82,37.49 L404.43,37.48 L405.05,37.46 L405.66,37.44 L406.27,37.43 L406.88,37.41 L407.49,37.39 L408.10,37.38 L408.71,37.36 L409.32,37.35 L409.94,37.33 L410.55,37.32 L411.16,37.30 L411.77,37.29 L412.38,37.27 L412.99,37.26 L413.60,37.24 L414.21,37.23 L414.82,37.22 L415.44,37.20 L416.05,37.19 L416.66,37.17 L417.27,37.16 L417.88,37.15 L418.49,37.14 L419.10,37.12 L419.71,37.11 L420.33,37.10 L420.94,37.08 L421.55,37.07 L422.16,37.06 L422.77,37.05 L423.38,37.04 L423.99,37.03 L424.60,37.01 L425.21,37.00 L425.83,36.99 L426.44,36.98 L427.05,36.97 L427.66,36.96 L428.27,36.95 L428.88,36.94 L429.49,36.93 L430.10,36.92 L430.71,36.91 L431.33,36.90 L431.94,36.89 L432.55,36.88 L433.16,36.87 L433.77,36.86 L434.38,36.85 L434.99,36.84 L435.60,36.83 L436.22,36.82 L436.83,36.81 L437.44,36.80 L438.05,36.79 L438.66,36.78 L439.27,36.78 L439.88,36.77 L440.49,36.76 L441.10,36.75 L441.72,36.74 L442.33,36.73 L442.94,36.73 L443.55,36.72 L444.16,36.71 L444.77,36.70 L445.38,36.70 L445.99,36.69 L446.60,36.68 L447.22,36.67 L447.83,36.67 L448.44,36.66 L449.05,36.65 L449.66,36.65 L450.27,36.64 L450.88,36.63 L451.49,36.62 L452.11,36.62 L452.72,36.61 L453.33,36.61 L453.94,36.60 L454.55,36.59 L455.25,36.59" stroke="#808080" stroke-width="2.5"/>
</g>
<g stroke="#333" stroke-width="1.0" fill="none">
<line x1="18.4" y1="165.5" x2="462.9" y2="165.5"/>
<line x1="27.5" y1="21.6" x2="27.5" y2="296.6"/>
</g>
<g stroke="#222" stroke-width="0.9" fill="none">
<line x1="41.59" y1="165.50" x2="41.59" y2="162.50"/>
<line x1="55.83" y1="165.50" x2="55.83" y2="162.50"/>
<line x1="70.07" y1="165.50" x2="70.07" y2="162.50"/>
<line x1="84.31" y1="165.50" x2="84.31" y2="162.50"/>
<line x1="98.55" y1="165.50" x2="98.55" y2="160.50"/>
<line x1="112.79" y1="165.50" x2="112.79" y2="162.50"/>
<line x1="127.03" y1="165.50" x2="127.03" y2="162.50"/>
<line x1="141.27" y1="165.50" x2="141.27" y2="162.50"/>
<line x1="155.51" y1="165.50" x2="155.51" y2="162.50"/>
<line x1="169.75" y1="165.50" x2="169.75" y2="160.50"/>
<line x1="183.99" y1="165.50" x2="183.99" y2="162.50"/>
<line x1="198.23" y1="165.50" x2="198.23" y2="162.50"/>
<line x1="212.47" y1="165.50" x2="212.47" y2="162.50"/>
<line x1="226.71" y1="165.50" x2="226.71" y2="162.50"/>
<line x1="240.95" y1="165.50" x2="240.95" y2="160.50"/>
<line x1="255.19" y1="165.50" x2="255.19" y2="162.50"/>
<line x1="269.43" y1="165.50" x2="269.43" y2="162.50"/>
<line x1="283.67" y1="165.50" x2="283.67" y2="162.50"/>
<line x1="297.91" y1="165.50" x2="297.91" y2="162.50"/>
<line x1="312.15" y1="165.50" x2="312.15" y2="160.50"/>
<line x1="326.39" y1="165.50" x2="326.39" y2="162.50"/>
<line x1="340.63" y1="165.50" x2="340.63" y2="162.50"/>
<line x1="354.87" y1="165.50" x2="354.87" y2="162.50"/>
<line x1="369.11" y1="165.50" x2="369.11" y2="162.50"/>
<line x1="383.35" y1="165.50" x2="383.35" y2="160.50"/>
<line x1="397.59" y1="165.50" x2="397.59" y2="162.50"/>
<line x1="411.83" y1="165.50" x2="411.83" y2="162.50"/>
<line x1="426.07" y1="165.50" x2="426.07" y2="162.50"/>
<line x1="440.31" y1="165.50" x2="440.31" y2="162.50"/>
<line x1="454.55" y1="165.50" x2="454.55" y2="160.50"/>
<line x1="27.50" y1="296.45" x2="32.50" y2="296.45"/>
<line x1="27.50" y1="283.38" x2="30.50" y2="283.38"/>
<line x1="27.50" y1="270.30" x2="30.50" y2="270.30"/>
<line x1="27.50" y1="257.22" x2="30.50" y2="257.22"/>
<line x1="27.50" y1="244.15" x2="30.50" y2="244.15"/>
<line x1="27.50" y1="231.07" x2="32.50" y2="231.07"/>
<line x1="27.50" y1="218.00" x2="30.50" y2="218.00"/>
<line x1="27.50" y1="204.92" x2="30.50" y2="204.92"/>
<line x1="27.50" y1="191.85" x2="30.50" y2="191.85"/>
<line x1="27.50" y1="178.77" x2="30.50" y2="178.77"/>
<line x1="27.50" y1="152.62" x2="30.50" y2="152.62"/>
<line x1="27.50" y1="139.55" x2="30.50" y2="139.55"/>
<line x1="27.50" y1="126.47" x2="30.50" y2="126.47"/>
<line x1="27.50" y1="113.40" x2="30.50" y2="113.40"/>
<line x1="27.50" y1="100.32" x2="32.50" y2="100.32"/>
<line x1="27.50" y1="87.25" x2="30.50" y2="87.25"/>
<line x1="27.50" y1="74.17" x2="30.50" y2="74.17"/>
<line x1="27.50" y1="61.10" x2="30.50" y2="61.10"/>
<line x1="27.50" y1="48.02" x2="30.50" y2="48.02"/>
<line x1="27.50" y1="34.95" x2="32.50" y2="34.95"/>
<line x1="27.50" y1="21.87" x2="30.50" y2="21.87"/>
</g>
<g font-size="12" fill="#0a0a0a" stroke="#0a0a0a" stroke-width="0.2">
<text x="99.35" y="178.7" text-anchor="middle">0.5</text><text x="170.55" y="178.7" text-anchor="middle">1.0</text><text x="240.95" y="178.7" text-anchor="middle">1.5</text><text x="312.15" y="178.7" text-anchor="middle">2.0</text><text x="383.35" y="178.7" text-anchor="middle">2.5</text><text x="454.15" y="178.7" text-anchor="middle">3.0</text>
<text x="23.5" y="38.95" text-anchor="end">1.0</text><text x="23.5" y="104.72" text-anchor="end">0.5</text><text x="23.5" y="235.07" text-anchor="end">−0.5</text><text x="23.5" y="301.30" text-anchor="end">−1.0</text>
<text x="27.6" y="12.0" text-anchor="middle">V</text>
<text x="477" y="169.5" text-anchor="middle">a</text>
</g>
<g fill="none">
<line x1="501.3" y1="121.8" x2="555.2" y2="121.8" stroke="#0000ff" stroke-width="2.4"/>
<line x1="501.2" y1="152.2" x2="552.2" y2="152.2" stroke="#ff0000" stroke-width="2.4" stroke-dasharray="3.5 3.18"/>
<line x1="501.3" y1="182.3" x2="555.2" y2="182.3" stroke="#808080" stroke-width="2.5"/>
</g>
<g font-size="17" fill="#0a0a0a" stroke="#0a0a0a" stroke-width="0.3">
<text x="564.4" y="126.6"><tspan font-style="italic">V</tspan><tspan font-size="12.3" dy="3.0">1</tspan><tspan font-size="12.3" font-style="italic" dy="-9.6" dx="0.5">E</tspan></text>
<text x="564.4" y="157.0"><tspan font-style="italic">V</tspan><tspan font-size="12.3" dy="3.0">1</tspan><tspan font-size="12.3" font-style="italic" dy="-9.6" dx="0.5">E</tspan><tspan dy="6.6" dx="0.6">+O</tspan><tspan dx="0.7">(</tspan><tspan font-style="italic" dx="0.7">γ</tspan><tspan font-size="12.3" dy="-6.6" dx="0.4">2</tspan><tspan dy="6.6" dx="0.6">)</tspan></text>
<text x="564.4" y="187.1"><tspan font-style="italic">V</tspan><tspan font-size="12.3" dy="3.0">1</tspan></text>
</g>
</svg>
</body></html>
